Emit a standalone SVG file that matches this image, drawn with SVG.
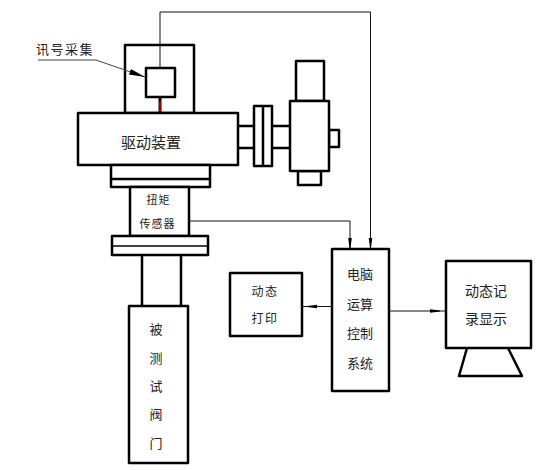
<svg xmlns="http://www.w3.org/2000/svg" width="550" height="470" viewBox="0 0 550 470">
<style>
.b{fill:#fff;stroke:#000;stroke-width:2.500;stroke-linejoin:round}
.l{fill:none;stroke:#000;stroke-width:2.500}
.c{fill:none;stroke:#111;stroke-width:1}
text{font-family:"Noto Sans CJK SC","Noto Sans CJK JP",sans-serif;fill:#222;font-weight:400;dominant-baseline:central;text-anchor:middle}
</style>
<defs>
<marker id="a" markerUnits="userSpaceOnUse" markerWidth="10" markerHeight="6" refX="10" refY="3" orient="auto"><path d="M0 1.200L10 2.500L10 3.500L0 4.800Z" fill="#000"/></marker>
<marker id="w" markerUnits="userSpaceOnUse" markerWidth="16" markerHeight="8" refX="16" refY="4" orient="auto"><path d="M0 1L16 4L0 7Z" fill="#000"/></marker>
</defs>
<rect width="550" height="470" fill="#fff"/>
<g id="signal-housing"><rect class="b" x="125" y="45" width="69" height="68"/></g>
<g id="signal-sensor"><rect class="b" x="146" y="68" width="29" height="29"/><path d="M160 97V113" stroke="#000" stroke-width="3"/><path d="M160 101V113" stroke="#d00" stroke-width="1.500"/></g>
<g id="signal-label"><text x="65" y="48" font-size="13" letter-spacing="1.500" fill="#555">讯号采集</text></g>
<g id="drive"><rect class="b" x="78" y="113" width="160" height="52"/><text x="151" y="141" font-size="15">驱动装置</text></g>
<g id="drive-base"><rect class="b" x="111" y="165" width="99" height="22"/><path class="l" d="M111 179H210"/></g>
<g id="coupling"><path class="l" d="M238 126H254M238 148H254M272 126H290M272 148H290"/><rect class="b" x="254" y="106" width="18" height="60"/><path class="l" d="M263 106V166"/></g>
<g id="gearbox"><rect class="b" x="296" y="61" width="28" height="40"/><rect class="b" x="329" y="130" width="10" height="17"/><rect class="b" x="298" y="171" width="23" height="14"/><rect class="b" x="290" y="101" width="39" height="70"/></g>
<g id="torque-sensor"><rect class="b" x="130" y="187" width="59" height="49"/><text x="158.500" y="199" font-size="11" letter-spacing="1">扭矩</text><text x="157.500" y="223" font-size="11" letter-spacing="1">传感器</text></g>
<g id="flange"><rect class="b" x="112" y="236" width="96" height="19"/><path fill="none" stroke="#000" stroke-width="1.500" d="M112 246H208"/></g>
<g id="shaft"><path class="l" d="M142 255V306M181 255V306"/></g>
<g id="valve"><rect class="b" x="129" y="306" width="59" height="157"/><text x="156" y="328" font-size="13">被</text><text x="156" y="357" font-size="13">测</text><text x="156" y="385" font-size="13">试</text><text x="156" y="413" font-size="13">阀</text><text x="156" y="442" font-size="13">门</text></g>
<g id="printer"><rect class="b" x="230" y="273" width="72" height="63"/><text x="265" y="290" font-size="12" letter-spacing="1.500">动态</text><text x="265" y="317" font-size="12" letter-spacing="1.500">打印</text></g>
<g id="control"><rect class="b" x="332" y="249" width="57" height="142"/><text x="360" y="273" font-size="13">电脑</text><text x="360" y="303" font-size="13">运算</text><text x="360" y="332" font-size="13">控制</text><text x="360" y="362" font-size="13">系统</text></g>
<g id="display"><rect class="b" x="446" y="261" width="85" height="87"/><path class="l" stroke-linejoin="round" d="M467 348L459 376H522L508 348"/><text x="486" y="290" font-size="14">动态记</text><text x="486" y="318" font-size="14">录显示</text></g>
<g id="connectors">
<path class="c" d="M160 68V12H370.500V248" marker-end="url(#a)"/>
<path class="c" d="M189 221H350V248" marker-end="url(#a)"/>
<path class="c" d="M332 306.500H307" marker-end="url(#a)"/>
<path class="c" d="M307 306.500H303"/>
<path class="c" d="M390 311H440" marker-end="url(#a)"/>
<path class="c" d="M440 311H445"/>
<path fill="none" stroke="#444" stroke-width="1" d="M38 60H96L145 77" marker-end="url(#w)"/>
</g>
</svg>
